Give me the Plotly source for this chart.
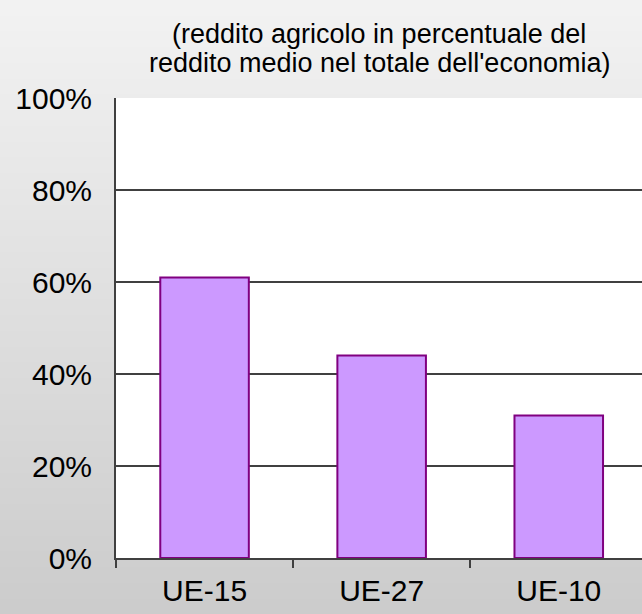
import plotly.graph_objects as go

# data
categories = ["UE-15", "UE-27", "UE-10"]
values = [61, 44, 31]
y_ticks = [0, 20, 40, 60, 80, 100]
y_labels = [f"{v}%" for v in y_ticks]
title_lines = ["(reddito agricolo in percentuale del",
               "reddito medio nel totale dell'economia)"]

FONT = "Liberation Sans, Arial, sans-serif"
W, H = 642, 614

fig = go.Figure()

fig.add_trace(go.Bar(x=categories, y=values, width=0.5,
                     marker=dict(color="#cc99ff",
                                 line=dict(color="#800080", width=2)),
                     showlegend=False, hoverinfo="skip"))

# gray vertical gradient behind everything (light at top, darker at bottom)
shapes = []
n = 39
top, bottom = 0xf2, 0xcc
y_lo, y_hi = -56 / 460, 1 + 98 / 460
for i in range(n):
    g = round(top + (bottom - top) * i / (n - 1))
    col = f"rgb({g},{g},{g})"
    y1 = y_hi - (y_hi - y_lo) * i / n
    y0 = y_hi - (y_hi - y_lo) * (i + 1) / n
    shapes.append(dict(type="rect", xref="paper", yref="paper",
                       x0=-1, x1=2, y0=y0 - 0.002, y1=y1,
                       fillcolor=col, line_width=0, layer="below"))
# white plot area on top of the gradient
shapes.append(dict(type="rect", xref="paper", yref="paper",
                   x0=0, x1=1, y0=0, y1=1,
                   fillcolor="white", line_width=0, layer="below"))

# two title lines as annotations, placed in pixels from the top
annotations = []
for line, ypix in zip(title_lines, [34, 63]):
    annotations.append(dict(text=line, showarrow=False,
                            xref="paper", yref="paper",
                            x=(379 - 116) / 526, xanchor="center",
                            y=1 + (98 - ypix) / 460, yanchor="middle",
                            font=dict(family=FONT, size=27, color="black")))

fig.update_layout(
    width=W, height=H,
    margin=dict(l=116, r=0, t=98, b=56),
    paper_bgcolor="#e0e0e0",
    plot_bgcolor="white",
    shapes=shapes,
    annotations=annotations,
    font=dict(family=FONT, color="black", size=29),
    bargap=0.5,
)

fig.update_xaxes(range=[-0.5, 2.47], showline=True, linecolor="#404040",
                 linewidth=2, ticks="outside", tickson="boundaries",
                 ticklen=8, tickwidth=1.5, tickcolor="#404040",
                 showgrid=False, ticklabelstandoff=5,
                 tickfont=dict(size=30))
fig.update_yaxes(range=[0, 100], tickmode="array", tickvals=y_ticks,
                 ticktext=y_labels,
                 showline=True, linecolor="#404040", linewidth=2,
                 showgrid=True, gridcolor="#404040", gridwidth=1.5,
                 zeroline=False, ticks="", ticklabelstandoff=16,
                 tickfont=dict(size=30))

# the page's default body margin would shift the figure by 8px
fig.write_html("out.html", config={"displayModeBar": False},
               post_script="document.body.style.margin='0';")
